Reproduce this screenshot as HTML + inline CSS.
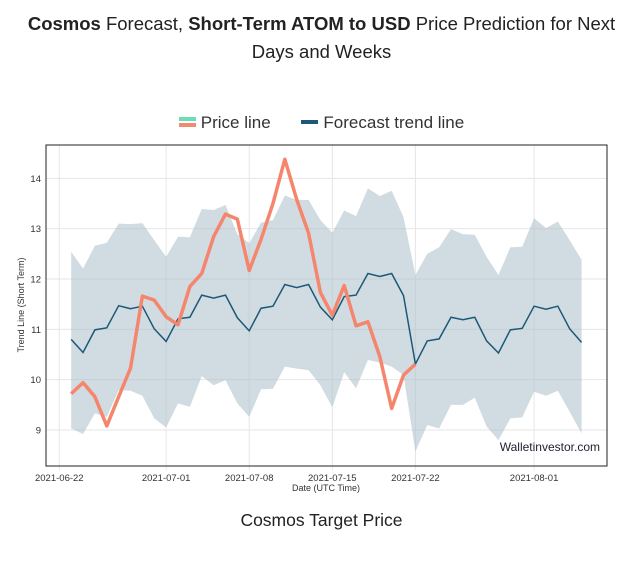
<!DOCTYPE html>
<html><head><meta charset="utf-8"><style>
body{margin:0;background:#fff;width:643px;height:561px;overflow:hidden;font-family:"Liberation Sans",sans-serif;color:#222}
#title{position:absolute;left:0;top:10px;width:643px;text-align:center;font-size:18.5px;line-height:28px}
#legend{position:absolute;top:113px;left:0;width:643px;text-align:center;font-size:17px;color:#333}
#sub{position:absolute;top:510px;width:643px;text-align:center;font-size:17.5px}
</style></head><body>
<div id="title"><b>Cosmos</b> Forecast, <b>Short-Term ATOM to USD</b> Price Prediction for Next<br>Days and Weeks</div>
<div id="legend">
<span style="margin-right:26px"><span style="display:inline-block;width:17px;height:9px;vertical-align:1px;border-top:4px solid #6fdcb8;border-bottom:4px solid #f08a70;box-sizing:border-box;height:10px;margin-right:5px"></span>Price line</span>
<span><span style="display:inline-block;width:17px;height:4px;background:#1c5878;vertical-align:4px;margin-right:5px"></span>Forecast trend line</span>
</div>
<svg id="chart" width="643" height="561" style="position:absolute;left:0;top:0"></svg>
<div id="sub">Cosmos Target Price</div>
<script>
const trend=[10.80,10.54,10.99,11.03,11.47,11.41,11.46,11.01,10.76,11.21,11.24,11.68,11.62,11.68,11.23,10.97,11.42,11.46,11.89,11.83,11.89,11.44,11.19,11.65,11.68,12.11,12.05,12.11,11.67,10.31,10.77,10.81,11.24,11.19,11.24,10.77,10.53,10.99,11.02,11.46,11.40,11.46,11.01,10.74];
const upper=[12.54,12.21,12.66,12.72,13.10,13.09,13.11,12.77,12.44,12.84,12.83,13.39,13.37,13.47,12.89,12.71,13.12,13.17,13.66,13.57,13.57,13.17,12.92,13.36,13.25,13.80,13.65,13.75,13.23,12.08,12.50,12.63,12.99,12.89,12.88,12.44,12.08,12.63,12.64,13.21,13.01,13.14,12.77,12.38];
const lower=[9.03,8.92,9.33,9.26,9.79,9.78,9.68,9.23,9.05,9.53,9.46,10.07,9.89,9.99,9.53,9.26,9.81,9.82,10.26,10.22,10.19,9.89,9.45,10.15,9.83,10.39,10.34,10.26,10.09,8.57,9.10,9.03,9.50,9.50,9.64,9.07,8.80,9.23,9.25,9.76,9.68,9.78,9.36,8.93];
const price=[9.72,9.94,9.66,9.08,9.66,10.23,11.66,11.58,11.25,11.09,11.85,12.11,12.84,13.29,13.19,12.17,12.79,13.50,14.38,13.58,12.91,11.73,11.28,11.87,11.07,11.15,10.46,9.43,10.09,10.31];
const yTicks=[9,10,11,12,13,14];
const xTickDays=[0,9,16,23,30,40];
const xTickLabels=['2021-06-22','2021-07-01','2021-07-08','2021-07-15','2021-07-22','2021-08-01'];
const firstDay=1;
const svg=document.getElementById('chart');const NS='http://www.w3.org/2000/svg';
const L=46,R=607,T=145,B=466;
const xs=d=>59.3+d*11.87, ys=v=>430-(v-9)*50.33;
function mk(t,a,p){const e=document.createElementNS(NS,t);for(const k in a)e.setAttribute(k,a[k]);(p||svg).appendChild(e);return e;}
for(const v of yTicks){
const g=mk('line',{x1:L,x2:R,y1:ys(v),y2:ys(v),stroke:'#e6e6e6'});


const t=mk('text',{x:L-5,y:ys(v)+3.5,'text-anchor':'end','font-size':'9.5',fill:'#333'});t.textContent=v;


}
xTickDays.forEach((d,i)=>{
const g=mk('line',{x1:xs(d),x2:xs(d),y1:T,y2:B+4,stroke:'#e6e6e6'});


const t=mk('text',{x:xs(d),y:B+15,'text-anchor':'middle','font-size':'9.5',fill:'#333'});t.textContent=xTickLabels[i];


});
let pts=upper.map((v,i)=>xs(firstDay+i)+','+ys(v));
for(let i=lower.length-1;i>=0;i--)pts.push(xs(firstDay+i)+','+ys(lower[i]));
const band=mk('polygon',{points:pts.join(' '),fill:'#a9bfcb',opacity:'0.55'});


const tl=mk('polyline',{points:trend.map((v,i)=>xs(firstDay+i)+','+ys(v)).join(' '),fill:'none',stroke:'#1c5878','stroke-width':'1.5'});


const pl=mk('polyline',{points:price.map((v,i)=>xs(firstDay+i)+','+ys(v)).join(' '),fill:'none',stroke:'#f5866d','stroke-width':'3.5','stroke-linejoin':'round'});


const fr=mk('rect',{x:L,y:T,width:R-L,height:B-T,fill:'none',stroke:'#222','stroke-width':'1'});


const wm=mk('text',{x:600,y:451,'text-anchor':'end','font-size':'12',fill:'#223'});wm.textContent='Walletinvestor.com';


const xt=mk('text',{x:326,y:491,'text-anchor':'middle','font-size':'9',fill:'#333'});xt.textContent='Date (UTC Time)';


const yt=mk('text',{x:0,y:0,'text-anchor':'middle','font-size':'9',fill:'#333',transform:'translate(24,305) rotate(-90)'});yt.textContent='Trend Line (Short Term)';


</script>
</body></html>
